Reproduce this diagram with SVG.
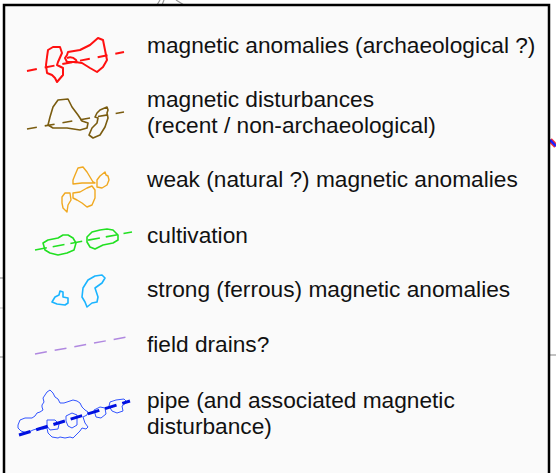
<svg xmlns="http://www.w3.org/2000/svg" width="556" height="473" viewBox="0 0 556 473">
<style>
.t{font-family:"Liberation Sans",Arial,Helvetica,sans-serif;font-size:22.7px;fill:#111}
.bg{stroke:#999;stroke-width:1.2;fill:none}
.red{stroke:#ff1010;fill:none;stroke-width:2;stroke-linejoin:round}
.brn{stroke:#7a5c10;fill:none;stroke-width:1.6;stroke-linejoin:round}
.org{stroke:#f0a820;fill:none;stroke-width:1.4;stroke-linejoin:round}
.grn{stroke:#22e022;fill:none;stroke-width:1.6;stroke-linejoin:round}
.cyn{stroke:#1ab4ff;fill:none;stroke-width:1.6;stroke-linejoin:round}
.pur{stroke:#b088e0;fill:none;stroke-width:1.5}
.blu{stroke:#3355ff;fill:none;stroke-width:1;stroke-linejoin:round}
</style>
<rect width="556" height="473" fill="#ffffff"/>
<g id="background">
<line class="bg" x1="0" y1="278" x2="4" y2="278"/>
<line class="bg" x1="0" y1="308" x2="4" y2="308" stroke-opacity="0.5"/>
<line class="bg" x1="0" y1="357" x2="4" y2="357"/>
<line class="bg" x1="550" y1="355" x2="556" y2="355"/>
<line class="bg" x1="157" y1="5" x2="160" y2="0"/>
<line class="bg" x1="162" y1="5" x2="164" y2="0"/>
<line class="bg" x1="176" y1="0" x2="184" y2="5"/>
<line x1="550" y1="140" x2="556" y2="146" stroke="#ff3030" stroke-width="5"/>
<line x1="550" y1="140" x2="556" y2="146" stroke="#2020ff" stroke-width="2.5"/>
</g>
<rect id="legend-frame" x="4" y="5" width="545" height="480" fill="#fafafa" stroke="#000" stroke-width="2.5"/>
<g id="item-archaeological">
<line class="red" x1="27" y1="71" x2="124" y2="52" stroke-dasharray="10 8"/>
<polygon class="red" points="48,50 53,47 60,47 62,53 58,62 57,65 63,68 63,75 57,82 55,78 52,75 47,73 46,65 47,57"/>
<polygon class="red" points="67,55 68,52 80,50 90,45 98,38 103,40 105,50 107,60 103,67 97,72 90,68 82,63 75,62 67,62 65,58"/>
<path class="red" d="M67,58 Q72,56 76,60 Q78,63 74,62"/>
<text class="t" x="147" y="53">magnetic anomalies (archaeological ?)</text>
</g>
<g id="item-disturbances">
<line class="brn" x1="27" y1="129" x2="124" y2="112" stroke-dasharray="10 8"/>
<polygon class="brn" points="53,107 58,100 68,99 72,107 78,115 82,121 88,123 87,128 80,130 67,128 53,128 48,125 50,117"/>
<polygon class="brn" points="97,113 100,110 107,107 108,110 107,113 108,118 105,127 100,135 93,138 89,135 92,128 97,123 98,118 95,117"/>
<text class="t" x="147" y="107">magnetic disturbances</text>
<text class="t" x="147" y="133">(recent / non-archaeological)</text>
</g>
<g id="item-weak">
<polygon class="org" points="75,175 78,168 83,167 87,172 90,177 93,182 95,183 90,183 82,183 73,184 73,180"/>
<polygon class="org" points="97,180 100,176 105,172 106,175 108,176 109,180 107,185 102,188 97,187"/>
<polygon class="org" points="62,197 65,193 70,193 71,200 68,205 67,212 63,208 62,203"/>
<polygon class="org" points="73,193 80,192 87,188 92,186 95,190 95,198 92,205 87,207 82,203 77,200 73,198"/>
<text class="t" x="147" y="187">weak (natural ?) magnetic anomalies</text>
</g>
<g id="item-cultivation">
<line class="grn" x1="35" y1="250" x2="132" y2="232" stroke-width="2.4" stroke-dasharray="12 6"/>
<polygon class="grn" points="43,243 48,240 58,238 63,235 68,235 73,238 76,243 74,250 67,253 58,255 50,253 45,250"/>
<polygon class="grn" points="87,237 92,232 100,230 107,229 113,230 118,235 118,240 113,243 103,245 95,249 90,247 87,242"/>
<text class="t" x="147" y="243">cultivation</text>
</g>
<g id="item-strong">
<polygon class="cyn" points="52,302 55,297 59,295 60,291 63,292 63,297 68,298 68,303 65,305 57,304"/>
<polygon class="cyn" points="82,297 83,288 88,280 95,276 102,275 105,278 102,283 95,288 98,297 97,302 92,303 87,307 85,302"/>
<text class="t" x="147" y="297">strong (ferrous) magnetic anomalies</text>
</g>
<g id="item-drains">
<line class="pur" x1="35" y1="354" x2="132" y2="336" stroke-dasharray="12 8"/>
<text class="t" x="147" y="352">field drains?</text>
</g>
<g id="item-pipe">
<path class="blu" d="M18,425 L20,420 L25,418 L32,418 L35,416 L37,413 L40,412 L43,410 L42,407 L42,405 L44,402 L43,398 L45,395 L47,392 L50,390 L53,393 L54,395 L55,397 L58,399 L60,403 L64,403 L67,402 L70,401 L73,400 L77,401 L80,403 L82,407 L85,410 L88,412 L87,415 L83,417 L85,423 L88,427 L86,429 L82,428 L80,431 L78,433 L73,438 L70,437 L65,438 L60,437 L58,438 L52,437 L48,433 L47,428 L43,429 L40,428 L33,430 L27,433 L21,431 L18,428 Z"/>
<path class="blu" d="M47,420 L55,420 L59,424 L58,429 L50,430 L47,426 Z"/>
<path class="blu" d="M66,416 L72,413 L77,415 L77,425 L72,428 L68,426 L66,421 Z"/>
<path class="blu" d="M94,410 L100,407 L105,408 L106,414 L101,418 L96,417 Z"/>
<path class="blu" d="M110,402 L116,400 L124,399 L127,402 L122,406 L123,411 L117,413 L112,411 L109,406 Z"/>
<line x1="19" y1="435" x2="130" y2="401" stroke="#0010e0" stroke-width="3" stroke-dasharray="12 6"/>
<text class="t" x="147" y="408">pipe (and associated magnetic</text>
<text class="t" x="147" y="434">disturbance)</text>
</g>
</svg>
